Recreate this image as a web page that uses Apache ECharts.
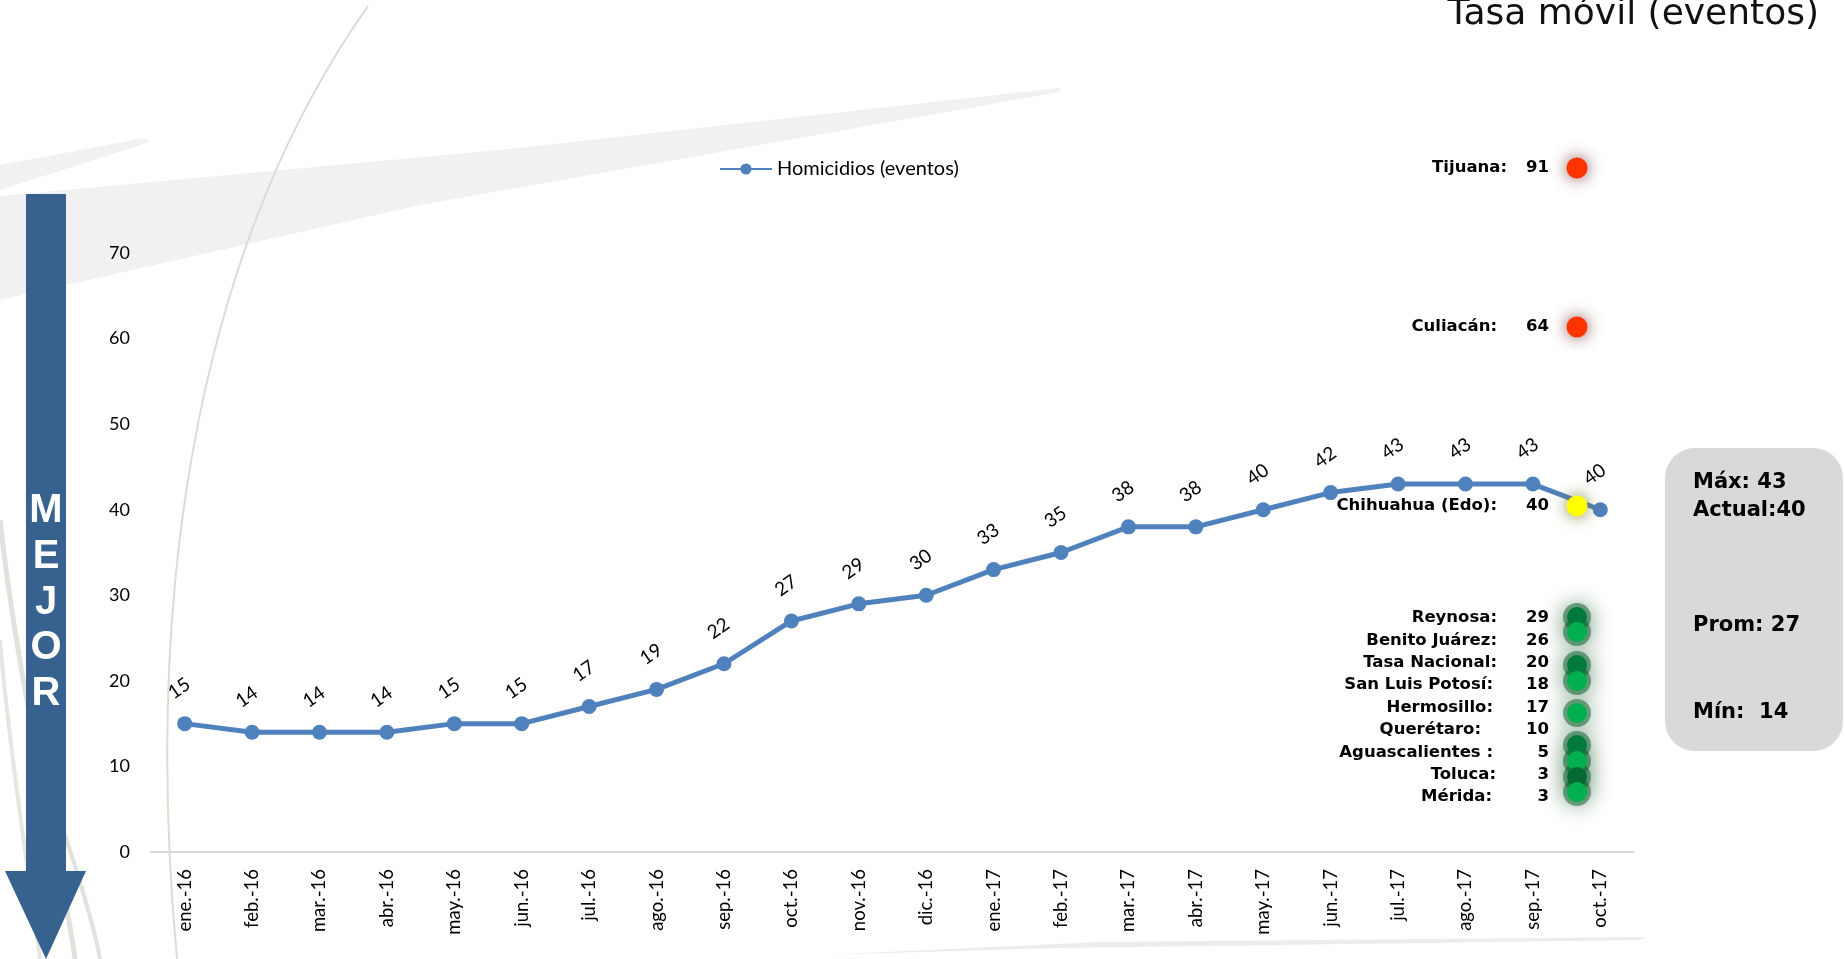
<!DOCTYPE html>
<html><head><meta charset="utf-8">
<script src="https://cdn.jsdelivr.net/npm/echarts@6/dist/echarts.min.js"></script>
<style>html,body{margin:0;padding:0;background:#fff;}#c{width:1845px;height:959px;}</style>
</head><body><div id="c"></div>
<script>
// ---- data ----
var months = ['ene.-16','feb.-16','mar.-16','abr.-16','may.-16','jun.-16','jul.-16','ago.-16','sep.-16','oct.-16','nov.-16','dic.-16','ene.-17','feb.-17','mar.-17','abr.-17','may.-17','jun.-17','jul.-17','ago.-17','sep.-17','oct.-17'];
var homicidios = [15,14,14,14,15,15,17,19,22,27,29,30,33,35,38,38,40,42,43,43,43,40];
var yTicks = [0,10,20,30,40,50,60,70];
var topCities = ['Tijuana:','Culiacán:','Chihuahua (Edo):'];
var topValues = [91,64,40];
var topColors = ['#ff3300','#ff3300','#ffff00'];
var lowCities = ['Reynosa:','Benito Juárez:','Tasa Nacional:','San Luis Potosí:','Hermosillo:','Querétaro:','Aguascalientes :','Toluca:','Mérida:'];
var lowValues = [29,26,20,18,17,10,5,3,3];
var statLabels = ['Máx: 43','Actual:40','Prom: 27','Mín:  14'];
var titleText = 'Tasa móvil (eventos)';
var arrowWord = ['M','E','J','O','R'];

// ---- layout ----
var chart = echarts.init(document.getElementById('c'));
var g = [];
var listFont = 'bold 16.5px "DejaVu Sans", sans-serif';
// background decorations
g.push({type:'polygon',z:-10,shape:{points:[[0,196],[0,300],[420,205],[1060,92],[1060,88],[500,150]]},style:{fill:'#f1f1f1'}});
g.push({type:'polygon',z:-10,shape:{points:[[0,165],[0,190],[150,142],[145,138]]},style:{fill:'#f1f1f1'}});
g.push({type:'polygon',z:-10,shape:{points:[[820,955],[1060,948],[1640,940],[1645,937],[1100,942]]},style:{fill:'#ececec'}});
g.push({type:'bezierCurve',z:-9,shape:{x1:368,y1:6,cpx1:210,cpy1:230,cpx2:140,cpy2:560,x2:177,y2:959},style:{stroke:'#dcdcd4',lineWidth:2,fill:null}});
g.push({type:'bezierCurve',z:-9,shape:{x1:0,y1:520,cpx1:20,cpy1:700,cpx2:60,cpy2:850,x2:75,y2:959},style:{stroke:'#e2e2dc',lineWidth:5,fill:null}});
g.push({type:'bezierCurve',z:-9,shape:{x1:0,y1:640,cpx1:10,cpy1:760,cpx2:30,cpy2:880,x2:40,y2:959},style:{stroke:'#e6e6e0',lineWidth:4,fill:null}});
g.push({type:'bezierCurve',z:-9,shape:{x1:60,y1:820,cpx1:80,cpy1:880,cpx2:95,cpy2:930,x2:100,y2:959},style:{stroke:'#e2e2dc',lineWidth:4,fill:null}});
// arrow
g.push({type:'polygon',z:5,shape:{points:[[26,194],[66,194],[66,871],[86,871],[46,959],[5,871],[26,871]]},style:{fill:'#37618f'}});
arrowWord.forEach(function(ch,i){
  g.push({type:'text',z:6,x:46,y:511+i*45.8,style:{text:ch,fill:'#fff',font:'bold 40px "Liberation Sans", Arial, sans-serif',textAlign:'center',textVerticalAlign:'middle'}});
});
// title
g.push({type:'text',z:6,x:1819,y:33,style:{text:titleText,fill:'#111',font:'normal 36px "DejaVu Sans", sans-serif',textAlign:'right',textVerticalAlign:'bottom'}});
// top cities
var topY = [168,327,506];
var topX = [1507,1497,1497];
topCities.forEach(function(c,i){
  g.push({type:'text',z:6,x:topX[i],y:topY[i],style:{text:c,fill:'#000',font:listFont,textAlign:'right',textVerticalAlign:'middle'}});
  g.push({type:'text',z:6,x:1549,y:topY[i],style:{text:String(topValues[i]),fill:'#000',font:listFont,textAlign:'right',textVerticalAlign:'middle'}});
  g.push({type:'circle',z:7,shape:{cx:1577,cy:topY[i],r:10.5},style:{fill:topColors[i],shadowBlur:16,shadowColor:i<2?'rgba(120,50,50,0.85)':'rgba(110,110,40,0.85)'}});
});
// low cities
var lowColors = ['#007a3a','#00b050','#007a3a','#00b050','#00b050','#007a3a','#00b050','#006a30','#00b050'];
var dotY = [617,632,665,681,713,745,761,777,792];
var lowX = [1497,1497,1497,1493,1493,1481,1493,1496,1492];
lowCities.forEach(function(c,i){
  var y = 618 + i*22.4;
  g.push({type:'text',z:6,x:lowX[i],y:y,style:{text:c,fill:'#000',font:listFont,textAlign:'right',textVerticalAlign:'middle'}});
  g.push({type:'text',z:6,x:1549,y:y,style:{text:String(lowValues[i]),fill:'#000',font:listFont,textAlign:'right',textVerticalAlign:'middle'}});
});
// glow backdrop for green dots
dotY.forEach(function(y,i){
  g.push({type:'circle',z:6,shape:{cx:1577,cy:y,r:14},style:{fill:'rgba(0,90,35,0.5)',shadowBlur:22,shadowColor:'rgba(0,80,30,0.9)'}});
});
dotY.forEach(function(y,i){
  g.push({type:'circle',z:7,shape:{cx:1577,cy:y,r:10},style:{fill:lowColors[i]}});
});
// stat box
g.push({type:'rect',z:5,shape:{x:1665,y:448,width:178,height:303,r:30},style:{fill:'#d9d9d9'}});
var statY = [483,511,626,713];
statLabels.forEach(function(s,i){
  g.push({type:'text',z:6,x:1693,y:statY[i],style:{text:s,fill:'#000',font:'bold 21px "DejaVu Sans", sans-serif',textAlign:'left',textVerticalAlign:'middle'}});
});

chart.setOption({
  animation:false,
  backgroundColor:'#fff',
  grid:{left:151,right:211,top:253,bottom:107,containLabel:false},
  legend:{data:['Homicidios (eventos)'],left:714,top:154,itemWidth:52,itemHeight:14,itemGap:4,
    textStyle:{fontFamily:'Lato, sans-serif',fontSize:20,color:'#000'}},
  xAxis:{type:'category',data:months,boundaryGap:true,
    axisLine:{lineStyle:{color:'#d9d9d9',width:2}},axisTick:{show:false},
    axisLabel:{rotate:90,fontSize:18.5,color:'#000',fontFamily:'Lato, sans-serif',margin:17,interval:0}},
  yAxis:{type:'value',min:yTicks[0],max:yTicks[yTicks.length-1],interval:10,
    splitLine:{show:false},axisLine:{show:false},axisTick:{show:false},
    axisLabel:{fontSize:18,color:'#000',fontFamily:'Lato, sans-serif',margin:21}},
  series:[{name:'Homicidios (eventos)',type:'line',data:homicidios,
    lineStyle:{color:'#4f81bd',width:5},itemStyle:{color:'#4f81bd'},
    symbol:'circle',symbolSize:15,
    label:{show:true,position:'top',rotate:35,distance:20,fontSize:19,color:'#000',fontFamily:'Lato, sans-serif'}}],
  graphic:g
});
</script></body></html>
